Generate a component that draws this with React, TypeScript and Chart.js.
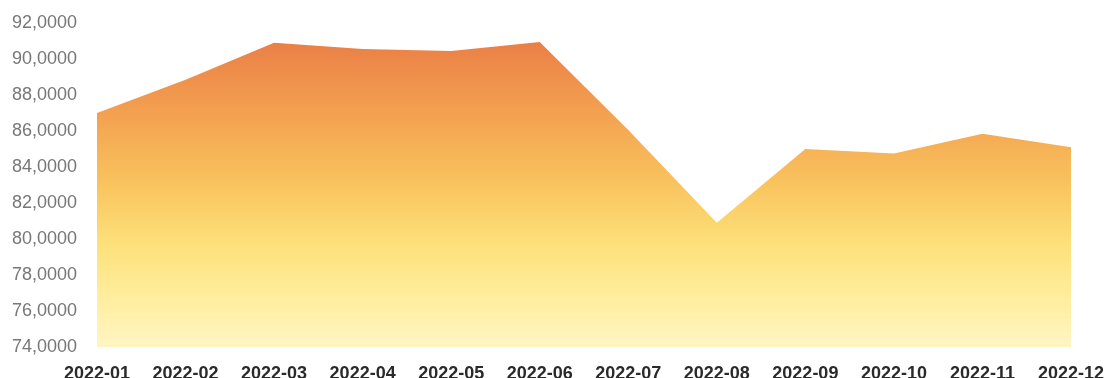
import React, { useEffect, useRef } from "react";
import { Chart, registerables } from "chart.js";

Chart.register(...registerables);

const categories = [
  "2022-01", "2022-02", "2022-03", "2022-04", "2022-05", "2022-06",
  "2022-07", "2022-08", "2022-09", "2022-10", "2022-11", "2022-12",
];
const values = [87.0, 88.85, 90.9, 90.55, 90.45, 90.95, 86.05, 80.9, 85.0, 84.75, 85.85, 85.1];
const yMin = 74;
const yMax = 92;
const yStep = 2;

export default function App() {
  const ref = useRef<HTMLCanvasElement | null>(null);

  useEffect(() => {
    if (!ref.current) return;
    const chart = new Chart(ref.current, {
      type: "line",
      data: {
        labels: categories,
        datasets: [
          {
            data: values,
            fill: "start",
            borderWidth: 0,
            pointRadius: 0,
            tension: 0,
            backgroundColor: (ctx: any) => {
              const { chart } = ctx;
              const area = chart.chartArea;
              if (!area) return "#F8BE5A";
              const g = chart.ctx.createLinearGradient(0, area.top, 0, area.bottom);
              g.addColorStop(0, "#E6743F");
              g.addColorStop(0.1, "#EC8648");
              g.addColorStop(0.3, "#F4A451");
              g.addColorStop(0.5, "#F9C45E");
              g.addColorStop(0.68, "#FDE07A");
              g.addColorStop(0.85, "#FFEE9E");
              g.addColorStop(1, "#FFF5C4");
              return g;
            },
          },
        ],
      },
      options: {
        animation: false,
        responsive: true,
        maintainAspectRatio: false,
        layout: { padding: { top: 23, right: 38, left: 0, bottom: 0 } },
        plugins: { legend: { display: false }, tooltip: { enabled: false } },
        scales: {
          x: {
            offset: false,
            grid: { display: false, drawTicks: false },
            border: { display: false },
            ticks: {
              color: "#2a2a2a",
              font: { family: "Liberation Sans", size: 18, weight: "bold" },
              padding: 16,
              maxRotation: 0,
              autoSkip: false,
            },
            afterFit: (s: any) => {
              s.height = 31;
              s.paddingLeft = 0;
              s.paddingRight = 0;
            },
          },
          y: {
            min: yMin,
            max: yMax,
            grid: { display: false, drawTicks: false },
            border: { display: false },
            ticks: {
              stepSize: yStep,
              color: "#777777",
              font: { family: "Liberation Sans", size: 18 },
              padding: 20,
              callback: (v: any) => Number(v).toFixed(4).replace(".", ","),
            },
            afterFit: (s: any) => {
              s.width = 97;
              s.paddingTop = 0;
              s.paddingBottom = 0;
            },
          },
        },
      },
    });
    return () => chart.destroy();
  }, []);

  return (
    <div style={{ position: "fixed", left: 0, top: 0, width: 1109, height: 378, background: "#ffffff" }}>
      <canvas ref={ref} />
    </div>
  );
}
